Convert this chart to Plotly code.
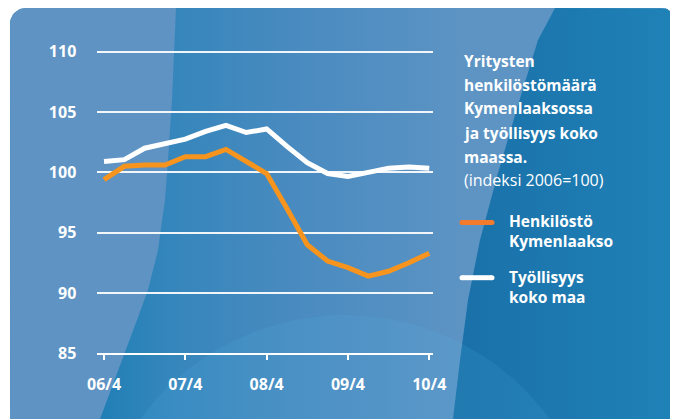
import math
import plotly.graph_objects as go

# ---------------- data ----------------
quarters = ["06/4", "07/1", "07/2", "07/3", "07/4", "08/1", "08/2", "08/3", "08/4",
            "09/1", "09/2", "09/3", "09/4", "10/1", "10/2", "10/3", "10/4"]
henkilosto_kymenlaakso = [99.4, 100.5, 100.6, 100.6, 101.3, 101.3, 101.9, 100.9, 99.9,
                          97.0, 94.0, 92.65, 92.1, 91.4, 91.8, 92.5, 93.3]
tyollisyys_koko_maa = [100.9, 101.05, 102.0, 102.4, 102.75, 103.4, 103.9, 103.3, 103.6,
                       102.15, 100.8, 99.9, 99.65, 100.0, 100.35, 100.45, 100.35]
x_tick_labels = ["06/4", "07/4", "08/4", "09/4", "10/4"]
y_tick_values = [85, 90, 95, 100, 105, 110]

title_lines = ["Yritysten", "henkilöstömäärä", "Kymenlaaksossa", "ja työllisyys koko", "maassa."]
subtitle = "(indeksi 2006=100)"
legend_orange = "Henkilöstö<br>Kymenlaakso"
legend_white = "Työllisyys<br>koko maa"

# ---------------- style ----------------
W, H = 678, 419
OFF = 8  # page body margin: the figure sits 8px right/down in the window
ORANGE = "#F7941D"
ORANGE_LEG = "#F47A2E"
FONT = "Open Sans"

def arc(cx, cy, r, a0, a1, n=10):
    pts = []
    for i in range(n + 1):
        a = math.radians(a0 + (a1 - a0) * i / n)
        pts.append((cx + r * math.cos(a), cy + r * math.sin(a)))
    return pts

def poly(pts):
    xs = [p[0] for p in pts] + [pts[0][0]]
    ys = [p[1] for p in pts] + [pts[0][1]]
    return xs, ys

L, T, R, B = 10, 8, 674, 440
rtl, rtr = 16, 12

panel = [(L, B)] + arc(L + rtl, T + rtl, rtl, 180, 270) + arc(R - rtr, T + rtr, rtr, 270, 360) + [(R, B)]

left_stripe = [(L, B)] + arc(L + rtl, T + rtl, rtl, 180, 270) + [
    (176, T), (174, 60), (172, 100), (168, 160), (165, 200), (158, 250), (148, 290),
    (137, 320), (126, 350), (113, 385), (100, 419), (96, B)]

right_region = [(555, T)] + arc(R - rtr, T + rtr, rtr, 270, 360) + [
    (R, B), (451, B), (453, 419), (460, 360), (468, 300), (480, 240), (498, 173),
    (518, 105), (538, 40)]

circle = arc(345, 569, 254, 0, 360, n=120)

fig = go.Figure()

def bg_trace(pts, color=None, grad=None):
    xs, ys = poly(pts)
    kw = dict(x=xs, y=ys, mode="lines", fill="toself", line=dict(width=0),
              hoverinfo="skip", showlegend=False, xaxis="x", yaxis="y", fillcolor=color)
    if grad is not None:
        kw["fillgradient"] = grad
    fig.add_trace(go.Scatter(**kw))

bg_trace(panel, "#3E89BE", dict(type="horizontal", start=95, stop=470,
                                 colorscale=[[0, "#1F7FB5"], [0.2, "#3586BC"],
                                             [0.55, "#4A8BC0"], [1, "#5D94C4"]]))
bg_trace(right_region, "#1D78AF", dict(type="horizontal", start=452, stop=674,
                                        colorscale=[[0, "#1A70A8"], [1, "#1F82B7"]]))
bg_trace(circle, "rgba(90,190,235,0.12)")
bg_trace(left_stripe, "#5E93C3")

# legend lines
for yv, col in [(222.5, ORANGE_LEG), (277.7, "white")]:
    fig.add_trace(go.Scatter(x=[462, 492], y=[yv, yv], mode="lines+markers",
                             line=dict(color=col, width=5), marker=dict(color=col, size=5),
                             hoverinfo="skip", showlegend=False, xaxis="x", yaxis="y"))

# data lines
fig.add_trace(go.Scatter(x=quarters, y=tyollisyys_koko_maa, mode="lines",
                         line=dict(color="white", width=5), name="Työllisyys koko maa",
                         showlegend=False, xaxis="x2", yaxis="y2"))
fig.add_trace(go.Scatter(x=quarters, y=henkilosto_kymenlaakso, mode="lines",
                         line=dict(color=ORANGE, width=5), name="Henkilöstö Kymenlaakso",
                         showlegend=False, xaxis="x2", yaxis="y2"))

annotations = []
ys_title = [61, 84.7, 108.4, 132.6, 156.5]
for txt, yv in zip(title_lines, ys_title):
    annotations.append(dict(x=462, y=yv, text=txt, xref="x", yref="y", xanchor="left",
                            yanchor="middle", showarrow=False,
                            font=dict(family=FONT, size=15.5, color="white", weight=700)))
annotations.append(dict(x=462, y=180, text=subtitle, xref="x", yref="y", xanchor="left",
                        yanchor="middle", showarrow=False,
                        font=dict(family=FONT, size=16, color="white", weight=400)))
for txt, yv in [(legend_orange, 231.4), (legend_white, 287.4)]:
    annotations.append(dict(x=507, y=yv, text=txt, xref="x", yref="y", xanchor="left",
                            yanchor="middle", align="left", showarrow=False,
                            font=dict(family=FONT, size=15.5, color="white", weight=700)))

fig.update_layout(
    width=W, height=H, autosize=False,
    margin=dict(l=0, r=0, t=0, b=0, pad=0, autoexpand=False),
    paper_bgcolor="white",
    plot_bgcolor="rgba(0,0,0,0)",
    showlegend=False,
    annotations=annotations,
    xaxis=dict(domain=[0, 1], range=[OFF, W + OFF], visible=False, fixedrange=True,
               automargin=False),
    yaxis=dict(domain=[0, 1], range=[H + OFF, OFF], visible=False, fixedrange=True,
               automargin=False),
    xaxis2=dict(domain=[(97.3 - OFF) / W, (432.5 - OFF) / W], anchor="y2", type="category",
                range=[-0.33, 16.16], tickmode="array", tickvals=x_tick_labels,
                ticktext=x_tick_labels, ticks="outside", ticklen=5, tickwidth=1.5,
                tickcolor="white", showline=True, linecolor="white", linewidth=2,
                showgrid=False, zeroline=False, ticklabelstandoff=10, automargin=False,
                tickfont=dict(family=FONT, size=16, color="white", weight=700)),
    yaxis2=dict(domain=[1 - (353.3 - OFF) / H, 1 - (48.7 - OFF) / H], anchor="x2",
                range=[85, 110.25], tickmode="array", tickvals=y_tick_values, showgrid=True,
                gridcolor="rgba(255,255,255,0.92)", gridwidth=1.5, ticks="",
                showline=False, zeroline=False, ticklabelstandoff=20, automargin=False,
                tickfont=dict(family=FONT, size=16, color="white", weight=700)),
)

fig.write_html("out.html")
